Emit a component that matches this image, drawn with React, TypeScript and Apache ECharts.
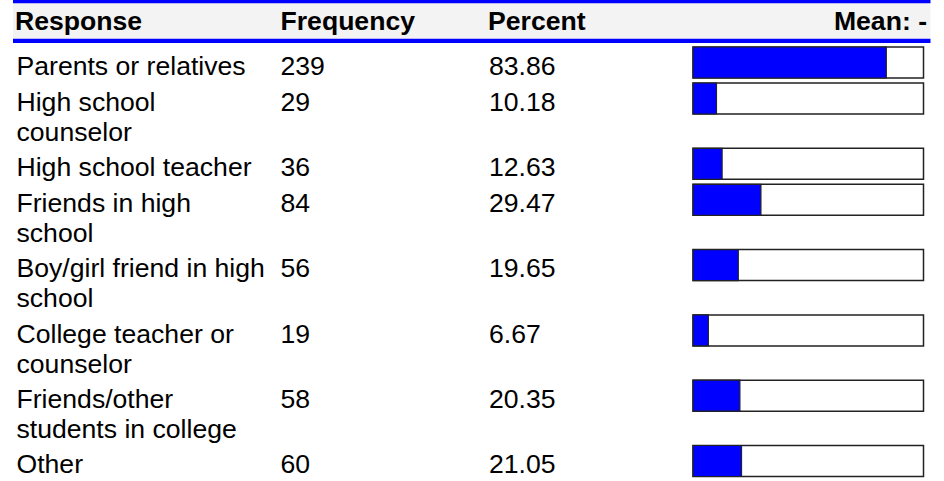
import React, { useEffect, useRef } from "react";
import * as echarts from "echarts";

// ---- data ----
const headers = ["Response", "Frequency", "Percent", "Mean: -"];
const responses = [
  "Parents or relatives",
  "High school counselor",
  "High school teacher",
  "Friends in high school",
  "Boy/girl friend in high school",
  "College teacher or counselor",
  "Friends/other students in college",
  "Other",
];
const frequencies = [239, 29, 36, 84, 56, 19, 58, 60];
const percents = [83.86, 10.18, 12.63, 29.47, 19.65, 6.67, 20.35, 21.05];

// ---- layout ----
const W = 944;
const H = 481;
const FONT_FAMILY = "'Liberation Sans', Arial, Helvetica, sans-serif";
const FONT_SIZE = 26.6;
const WRAP_WIDTH = 254;
const COL_X = [16.5, 280.5, 489];
const MEAN_RIGHT = 927;
const TABLE_LEFT = 13;
const TABLE_RIGHT = 930.5;
const HEADER_BOTTOM = 43;
const ROW_PAD = 6.7;
const ROW_LINE = 29.3;
const TEXT_LINE = 30;
const FIRST_BASE = 32;
const BAR_OFFSET = 4;
const BAR_H = 31;
const CENTRAL = FONT_SIZE * 0.3465;

function wrapText(text: string, font: string, width: number): string[] {
  const canvas = document.createElement("canvas");
  const ctx = canvas.getContext("2d");
  if (!ctx) return [text];
  ctx.font = font;
  const words = text.split(" ");
  const lines: string[] = [];
  let cur = "";
  for (const w of words) {
    const test = cur ? cur + " " + w : w;
    if (cur && ctx.measureText(test).width > width) {
      lines.push(cur);
      cur = w;
    } else {
      cur = test;
    }
  }
  if (cur) lines.push(cur);
  return lines;
}

function txt(text: string, x: number, baseline: number, bold = false, align = "left") {
  return {
    type: "text",
    x,
    y: baseline - CENTRAL,
    silent: true,
    style: {
      text,
      fill: "#000000",
      fontSize: FONT_SIZE,
      fontFamily: FONT_FAMILY,
      fontWeight: bold ? "bold" : "normal",
      align,
      verticalAlign: "middle",
      textAlign: align,
      textVerticalAlign: "middle",
    },
  };
}

export default function App() {
  const ref = useRef<HTMLDivElement>(null);

  useEffect(() => {
    if (!ref.current) return;
    document.body.style.margin = "0";
    const chart = echarts.init(ref.current, null, { renderer: "svg", width: W, height: H });

    const font = `${FONT_SIZE}px ${FONT_FAMILY}`;
    const wrapped = responses.map((r) => wrapText(r, font, WRAP_WIDTH));
    const rowTops: number[] = [];
    let y = HEADER_BOTTOM;
    wrapped.forEach((lines) => {
      rowTops.push(y);
      y += ROW_PAD + ROW_LINE * lines.length;
    });

    const headerBase = 30.5;
    const option: any = {
      animation: false,
      backgroundColor: "#ffffff",
      grid: { left: 693, width: 230.5, top: HEADER_BOTTOM, bottom: 0, containLabel: false },
      xAxis: { type: "value", min: 0, max: 100, show: false },
      yAxis: { type: "value", min: 0, max: responses.length, show: false },
      graphic: [
        { type: "rect", shape: { x: TABLE_LEFT, y: 3.3, width: TABLE_RIGHT - TABLE_LEFT, height: 35.5 }, style: { fill: "#f3f3f3" }, silent: true },
        { type: "rect", shape: { x: TABLE_LEFT, y: 0, width: TABLE_RIGHT - TABLE_LEFT, height: 3.3 }, style: { fill: "#0000ff" }, silent: true },
        { type: "rect", shape: { x: TABLE_LEFT, y: 38.8, width: TABLE_RIGHT - TABLE_LEFT, height: 4.2 }, style: { fill: "#0000ff" }, silent: true },
        txt(headers[0], COL_X[0] - 1.5, headerBase, true),
        txt(headers[1], COL_X[1], headerBase, true),
        txt(headers[2], COL_X[2] - 1, headerBase, true),
        txt(headers[3], MEAN_RIGHT, headerBase, true, "right"),
      ],
      series: [
        {
          type: "custom",
          coordinateSystem: "cartesian2d",
          silent: true,
          clip: false,
          data: percents.map((p, i) => [p, i]),
          renderItem: (params: any, api: any) => {
            const i = params.dataIndex;
            const v = api.value(0);
            const x0 = api.coord([0, 0])[0];
            const x1 = api.coord([100, 0])[0];
            const xv = api.coord([v, 0])[0];
            const top = rowTops[i];
            const base = top + FIRST_BASE;
            const children: any[] = [];
            wrapped[i].forEach((ln, k) => children.push(txt(ln, COL_X[0], base + k * TEXT_LINE)));
            children.push(txt(String(frequencies[i]), COL_X[1], base));
            children.push(txt(percents[i].toFixed(2), COL_X[2], base));
            children.push({
              type: "rect",
              shape: { x: x0, y: top + BAR_OFFSET, width: x1 - x0, height: BAR_H },
              style: { fill: "#ffffff", stroke: "#222222", lineWidth: 1.5 },
            });
            children.push({
              type: "rect",
              shape: { x: x0, y: top + BAR_OFFSET, width: xv - x0, height: BAR_H },
              style: { fill: "#0000ff", stroke: "#222222", lineWidth: 1.2 },
            });
            return { type: "group", children };
          },
        },
      ],
    };
    chart.setOption(option);
    return () => chart.dispose();
  }, []);

  return <div ref={ref} style={{ position: "absolute", left: 0, top: 0, width: W, height: H }} />;
}
